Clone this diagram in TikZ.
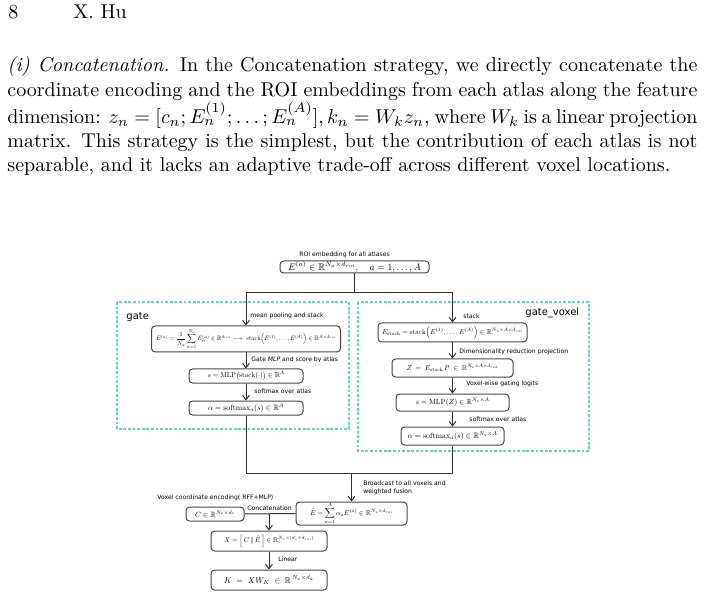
\documentclass[tikz,border=0pt]{standalone}
\usepackage{fontspec}
\usepackage{amsmath,amssymb}
\usepackage{graphicx}
\usetikzlibrary{arrows.meta}
\newfontfamily\dvsans{DejaVu Sans}
\newcommand{\lblfont}{\dvsans\fontsize{3.05}{4}\selectfont}
\newcommand{\bigfont}{\dvsans\fontsize{5}{5.5}\selectfont}
\newcommand{\fm}[2]{\resizebox{#1}{!}{$\displaystyle #2$}}
\definecolor{dashcol}{RGB}{100,212,198}
\definecolor{linegray}{RGB}{50,50,50}
\definecolor{boxgray}{RGB}{70,70,70}
\tikzset{
  box/.style={draw=boxgray, line width=0.5pt, rounded corners=1.8pt, inner sep=0pt},
  lbl/.style={font=\lblfont, inner sep=0pt, anchor=west, text=black},
  arr/.style={draw=linegray, line width=0.5pt, -{Straight Barb[length=2.2pt,width=3.4pt]}},
  ln/.style={draw=linegray, line width=0.5pt},
  dbox/.style={draw=dashcol, dash pattern=on 1.4pt off 0.9pt, line width=0.55pt},
}
\begin{document}
\begin{tikzpicture}[x=0.5pt,y=-0.5pt]
\useasboundingbox (0,0) rectangle (704,597);
% header
\node[anchor=base west, inner sep=0] (pg) at (8,19) {8};
\node[anchor=base west, inner sep=0] (run) at (73,19) {X. Hu};
% paragraph
\node[anchor=base west, inner sep=0] (para) at (7,72) {\parbox[t]{345pt}{\fontsize{10}{12.15}\selectfont
\textit{(i) Concatenation.} In the Concatenation strategy, we directly concatenate the\linebreak
coordinate encoding and the ROI embeddings from each atlas along the feature\linebreak
dimension: $z_n=[c_n;E_n^{(1)};\dots;E_n^{(A)}],k_n=W_kz_n$, where $W_k$ is a linear projection\linebreak
matrix. This strategy is the simplest, but the contribution of each atlas is not\linebreak
separable, and it lacks an adaptive trade-off across different voxel locations.}};

% dashed group frames
\draw[dbox] (117,302) rectangle (349,429);
\draw[dbox] (358,302) rectangle (589,451);
\node[font=\bigfont, inner sep=0, anchor=west] (glbl) at (126,317) {gate};
\node[font=\bigfont, inner sep=0, anchor=west] (gvlbl) at (525,313) {gate\_voxel};

% top
\node[lbl] (roilbl) at (299,255) {ROI embedding for all atlases};
\node[box, minimum width=74.5pt, minimum height=6pt] (roi) at (354.5,267)
  {\fm{66.5pt}{E^{(a)}\in\mathbb{R}^{N_a\times d_{roi}},\quad a=1,\dots,A}};

% gate column
\node[box, minimum width=94.5pt, minimum height=13pt] (gtop) at (246,339)
  {\fm{90pt}{E^{(a)}=\frac{1}{N_a}\sum_{n=1}^{N_a}E_n^{(a)}\in\mathbb{R}^{d_{roi}}\longrightarrow\ \mathrm{stack}\Big(E^{(1)},\dots,E^{(A)}\Big)\in\mathbb{R}^{A\times d_{roi}}}};
\node[box, minimum width=57pt, minimum height=7pt] (gs) at (246,376)
  {\fm{38.5pt}{s=\mathrm{MLP}\big(\mathrm{stack}(\cdot)\big)\in\mathbb{R}^{A}}};
\node[box, minimum width=57pt, minimum height=7pt] (ga) at (246,408)
  {\fm{38pt}{\alpha=\mathrm{softmax}_a(s)\in\mathbb{R}^{A}}};
\node[lbl] (l1) at (250,316) {mean pooling and stack};
\node[lbl] (l2) at (251,360) {Gate \textit{MLP} and score by atlas};
\node[lbl] (l3) at (254,391) {softmax over atlas};

% gate_voxel column
\node[box, minimum width=74.5pt, minimum height=9.5pt] (vstack) at (452.5,332.5)
  {\fm{70.5pt}{E_{\mathrm{stack}}=\mathrm{stack}\Big(E^{(1)},\dots,E^{(A)}\Big)\in\mathbb{R}^{N_v\times A\times d_{roi}}}};
\node[box, minimum width=60.5pt, minimum height=9pt] (vz) at (452.5,368)
  {\fm{46pt}{Z\;=\;E_{\mathrm{stack}}\,P\;\in\;\mathbb{R}^{N_v\times A\times d_{red}}}};
\node[box, minimum width=56.5pt, minimum height=8.5pt] (vs) at (452.5,402.5)
  {\fm{37pt}{s=\mathrm{MLP}(Z)\in\mathbb{R}^{N_v\times A}}};
\node[box, minimum width=51.5pt, minimum height=9pt] (va) at (452.5,436)
  {\fm{45pt}{\alpha=\mathrm{softmax}_a(s)\in\mathbb{R}^{N_v\times A}}};
\node[lbl] (r1) at (463,316) {stack};
\node[lbl] (r2) at (459,352) {Dimensionality reduction projection};
\node[lbl] (r3) at (466,384) {Voxel-wise gating logits};
\node[lbl] (r4) at (469,419) {softmax over atlas};

% bottom
\node[box, minimum width=55.5pt, minimum height=11.5pt] (ehat) at (351.5,513.5)
  {\fm{41.5pt}{\hat{E}=\sum_{a=1}^{A}\alpha_aE^{(a)}\in\mathbb{R}^{N_v\times d_{roi}}}};
\node[box, minimum width=29pt, minimum height=7pt] (cbox) at (215,514)
  {\fm{20pt}{C\in\mathbb{R}^{N_v\times d_c}}};
\node[box, minimum width=58pt, minimum height=10pt] (xbox) at (269,541)
  {\fm{45pt}{X=\Big[\,C\,\|\,\hat{E}\,\Big]\in\mathbb{R}^{N_v\times(d_c+d_{roi})}}};
\node[box, minimum width=58pt, minimum height=10pt] (kbox) at (269,580)
  {\fm{45pt}{K\;=\;XW_K\;\in\;\mathbb{R}^{\,N_v\times d_k}}};
\node[lbl, anchor=north west, align=left] (bc) at (363,480) {Broadcast to all voxels and\\weighted fusion};
\node[lbl] (vc) at (157,498) {Voxel coordinate encoding( RFF+MLP)};
\node[lbl] (cc) at (247,508) {Concatenation};
\node[lbl] (lin) at (278,559) {Linear};

% connectors
\coordinate (tl) at (246,293);
\coordinate (tr) at (452.5,293);
\draw[ln] (roi.south) -- (roi.south |- tl);
\draw[ln] (tl) -- (tr);
\draw[arr] (tl) -- (gtop.north);
\draw[arr] (tr) -- (vstack.north);
\draw[arr] (gtop.south) -- (gs.north);
\draw[arr] (gs.south) -- (ga.north);
\draw[arr] (vstack.south) -- (vz.north);
\draw[arr] (vz.south) -- (vs.north);
\draw[arr] (vs.south) -- (va.north);
\coordinate (bl) at (246,473);
\coordinate (br) at (452.5,473);
\draw[ln] (ga.south) -- (bl) -- (br) -- (va.south);
\draw[arr] (ehat.north |- bl) -- (ehat.north);
\draw[ln] (cbox.east) -- (ehat.west);
\coordinate (cj) at (269,514);
\draw[arr] (cj) -- (xbox.north);
\draw[arr] (xbox.south) -- (kbox.north);
\end{tikzpicture}
\end{document}
